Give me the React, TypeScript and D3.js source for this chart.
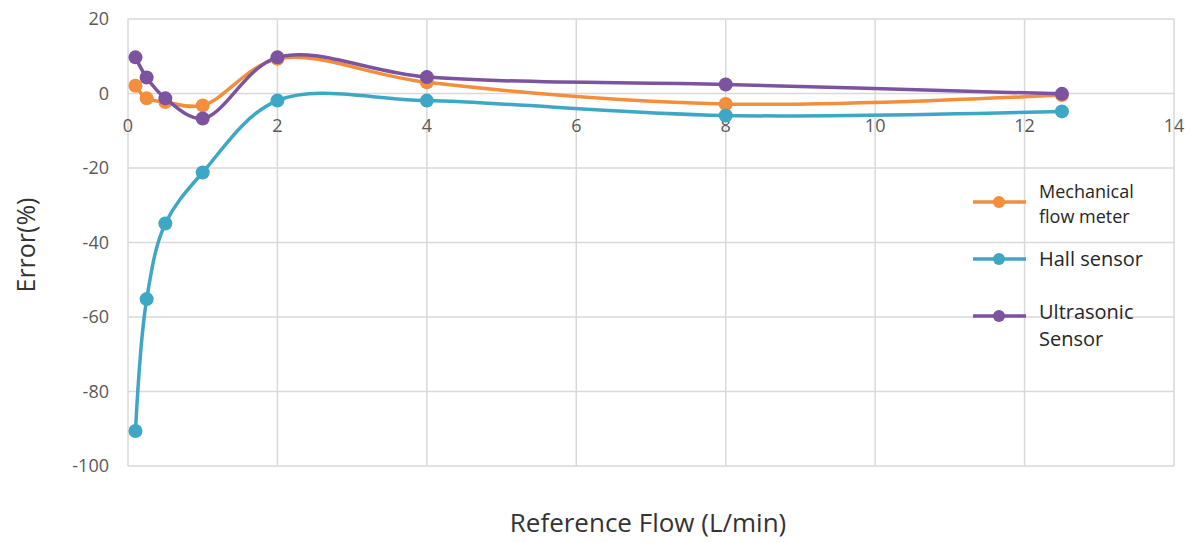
import React, { useRef, useEffect } from 'react';
import * as d3 from 'd3';

const flows = [0.1, 0.25, 0.5, 1, 2, 4, 8, 12.5];
const mechanical = [2.1, -1.3, -2.3, -3.2, 9.3, 3.0, -2.8, -0.4];
const hall = [-90.6, -55.2, -34.9, -21.2, -1.9, -1.9, -5.9, -4.8];
const ultrasonic = [9.7, 4.3, -1.3, -6.7, 9.7, 4.4, 2.4, -0.1];

const xTicks = [0, 2, 4, 6, 8, 10, 12, 14];
const yTicks = [20, 0, -20, -40, -60, -80, -100];

const series = [
  { name: ['Mechanical', 'flow meter'], values: mechanical, color: '#f28e3c', size: 18, gap: 25 },
  { name: ['Hall sensor'], values: hall, color: '#3ea7c5', size: 20, gap: 0 },
  { name: ['Ultrasonic', 'Sensor'], values: ultrasonic, color: '#7b539f', size: 20, gap: 27 },
];

const App = () => {
  const ref = useRef<SVGSVGElement>(null);

  useEffect(() => {
    const svg = d3.select(ref.current);
    svg.selectAll('*').remove();

    const font = "'Open Sans', 'Liberation Sans', sans-serif";

    const x = d3.scaleLinear().domain([0, 14]).range([128, 1174]);
    const y = d3.scaleLinear().domain([-100, 20]).range([466, 19]);

    // gridlines
    const grid = svg.append('g').attr('stroke', '#d9d9d9').attr('stroke-width', 1.5);
    grid.selectAll('line.v')
      .data(xTicks)
      .join('line')
      .attr('x1', d => x(d)).attr('x2', d => x(d))
      .attr('y1', y(20)).attr('y2', y(-100));
    grid.selectAll('line.h')
      .data(yTicks)
      .join('line')
      .attr('class', 'h')
      .attr('x1', x(0)).attr('x2', x(14))
      .attr('y1', d => y(d)).attr('y2', d => y(d));

    // y tick labels
    svg.append('g')
      .selectAll('text')
      .data(yTicks)
      .join('text')
      .attr('x', 109)
      .attr('y', d => y(d) + 6)
      .attr('text-anchor', 'end')
      .attr('font-family', font)
      .attr('font-size', 18)
      .attr('fill', '#595959')
      .text(d => d);

    // x tick labels, sitting under the zero line
    svg.append('g')
      .selectAll('text')
      .data(xTicks)
      .join('text')
      .attr('x', d => x(d))
      .attr('y', y(0) + 38)
      .attr('text-anchor', 'middle')
      .attr('font-family', font)
      .attr('font-size', 18)
      .attr('fill', '#595959')
      .text(d => d);

    const line = d3.line<number>()
      .x((_, i) => x(flows[i]))
      .y(d => y(d))
      .curve(d3.curveCatmullRom.alpha(0.5));

    series.forEach(s => {
      const g = svg.append('g');
      g.append('path')
        .attr('d', line(s.values))
        .attr('fill', 'none')
        .attr('stroke', s.color)
        .attr('stroke-width', 3.5);
      g.selectAll('circle')
        .data(s.values)
        .join('circle')
        .attr('cx', (_, i) => x(flows[i]))
        .attr('cy', d => y(d))
        .attr('r', 7)
        .attr('fill', s.color);
    });

    // legend
    const legendY = [202, 259, 316];
    const legend = svg.append('g');
    series.forEach((s, i) => {
      const g = legend.append('g').attr('transform', `translate(0,${legendY[i]})`);
      g.append('line')
        .attr('x1', 973).attr('x2', 1026)
        .attr('stroke', s.color).attr('stroke-width', 3.5);
      g.append('circle').attr('cx', 999).attr('r', 6).attr('fill', s.color);
      const t = g.append('text')
        .attr('x', 1039)
        .attr('font-family', font)
        .attr('font-size', s.size)
        .attr('fill', '#262626');
      const y0 = s.name.length === 1 ? 7 : i === 0 ? -4 : 3;
      s.name.forEach((n, k) => {
        t.append('tspan').attr('x', 1039).attr('y', y0 + k * s.gap).text(n);
      });
    });

    // axis titles
    svg.append('text')
      .attr('transform', 'translate(35,245) rotate(-90)')
      .attr('text-anchor', 'middle')
      .attr('font-family', font)
      .attr('font-size', 25)
      .attr('fill', '#333')
      .text('Error(%)');

    svg.append('text')
      .attr('x', 648)
      .attr('y', 532)
      .attr('text-anchor', 'middle')
      .attr('font-family', font)
      .attr('font-size', 26)
      .attr('fill', '#333')
      .text('Reference Flow (L/min)');
  }, []);

  return (
    <svg
      ref={ref}
      width={1191}
      height={542}
      style={{ position: 'absolute', left: 0, top: 0, background: '#fff' }}
    />
  );
};

export default App;
